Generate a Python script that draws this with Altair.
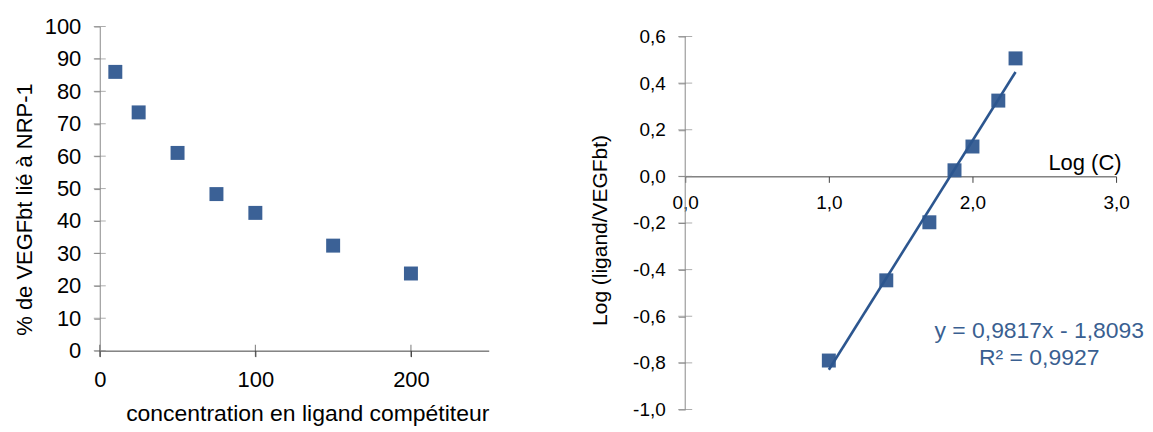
import altair as alt
import pandas as pd

# ---------------- data ----------------
# left panel: % of VEGFbt bound vs competitor concentration
conc = [10, 25, 50, 75, 100, 150, 200]
pct_bound = [86.0, 73.5, 61.0, 48.3, 42.5, 32.4, 23.8]
left_x_ticks = [0, 100, 200]
left_y_ticks = [0, 10, 20, 30, 40, 50, 60, 70, 80, 90, 100]

# right panel: log(ligand/VEGFbt) vs log(C)
log_c = [1.0, 1.4, 1.7, 1.875, 2.0, 2.18, 2.3]
log_ratio = [-0.79, -0.446, -0.197, 0.026, 0.128, 0.325, 0.506]
right_x_ticks = [0.0, 1.0, 2.0, 3.0]
right_y_ticks = [-1.0, -0.8, -0.6, -0.4, -0.2, 0.0, 0.2, 0.4, 0.6]
equation_lines = ["y = 0,9817x - 1,8093", "R² = 0,9927"]

# ---------------- style / layout ----------------
FONT = "Liberation Sans"
MARK = "#3b6196"
LINE = "#2c568f"
TXT = "#3a5f91"
AX_Y = "#8a8a8a"
AX_X = "#404040"

L_W, L_H = 390, 325
R_W = 432
R_PX_PER_UNIT = 374 / 1.6
R_TOP_EXTRA_PX = 10
R_DOM_TOP = max(right_y_ticks) + R_TOP_EXTRA_PX / R_PX_PER_UNIT
R_H = 374 + R_TOP_EXTRA_PX
EQ_X = 2.465
EQ_Y = [-0.664, -0.778]

comma_expr = "replace(replace(format(datum.value, '.1f'), '.', ','), '\u2212', '-')"

# ---------------- scales & axes ----------------
lx_scale = alt.Scale(domain=[0, 250], nice=False, zero=False)
ly_scale = alt.Scale(domain=[0, 100], nice=False, zero=False)
rx_scale = alt.Scale(domain=[min(right_x_ticks), max(right_x_ticks)], nice=False, zero=False)
ry_scale = alt.Scale(domain=[min(right_y_ticks), R_DOM_TOP], nice=False, zero=False)
x_axis_offset = -(0 - min(right_y_ticks)) * R_PX_PER_UNIT

LX_AXIS = alt.Axis(
    values=left_x_ticks, format="d", title="concentration en ligand compétiteur",
    labelFontSize=22, titleFontSize=23, tickSize=6, labelPadding=13, titlePadding=12,
    titleX=208, domainColor=AX_X, tickColor=AX_X, labelFlush=False, labelOverlap=False)
LY_AXIS = alt.Axis(
    values=left_y_ticks, format="d", title="% de VEGFbt lié à NRP-1",
    labelFontSize=22, titleFontSize=22, tickSize=6, labelPadding=13, titlePadding=8,
    titleY=183, domainColor=AX_Y, tickColor=AX_Y, labelFlush=False, labelOverlap=False)
RX_AXIS = alt.Axis(
    values=right_x_ticks, labelExpr=comma_expr, title="Log (C)", offset=x_axis_offset,
    labelFontSize=19, titleFontSize=22, tickSize=6, labelPadding=11,
    titleX=R_W + 5, titleY=-7, titleAlign="right", titleBaseline="alphabetic", titleAngle=0,
    domainColor=AX_X, tickColor=AX_X, labelFlush=False, labelOverlap=False)
RY_AXIS = alt.Axis(
    values=right_y_ticks, labelExpr=comma_expr, title="Log (ligand/VEGFbt)", domain=False,
    labelFontSize=19, titleFontSize=21, tickSize=7, labelPadding=13, titlePadding=22,
    titleY=204, tickColor=AX_Y, labelFlush=False, labelOverlap=False)

# ---------------- left panel ----------------
left_df = pd.DataFrame({"c": conc, "p": pct_bound})
left_points = alt.Chart(left_df).mark_square(size=196, color=MARK, opacity=1).encode(
    x=alt.X("c:Q", scale=lx_scale, axis=LX_AXIS),
    y=alt.Y("p:Q", scale=ly_scale, axis=LY_AXIS),
)

ly_tick_df = pd.DataFrame({"c": [left_x_ticks[0]] * len(left_y_ticks), "p": left_y_ticks})
left_yticks = alt.Chart(ly_tick_df).mark_tick(orient="horizontal", size=12, thickness=1, color=AX_Y).encode(
    x=alt.X("c:Q", scale=lx_scale, axis=LX_AXIS), y=alt.Y("p:Q", scale=ly_scale, axis=LY_AXIS))
lx_tick_df = pd.DataFrame({"c": left_x_ticks, "p": [left_y_ticks[0]] * len(left_x_ticks)})
left_xticks = alt.Chart(lx_tick_df).mark_tick(orient="vertical", size=12, thickness=1, color=AX_X).encode(
    x=alt.X("c:Q", scale=lx_scale, axis=LX_AXIS), y=alt.Y("p:Q", scale=ly_scale, axis=LY_AXIS))

left = alt.layer(left_points, left_yticks, left_xticks).properties(width=L_W, height=L_H)

# ---------------- right panel ----------------
right_df = pd.DataFrame({"lc": log_c, "lr": log_ratio})
right_points = alt.Chart(right_df).mark_square(size=196, color=MARK, opacity=1).encode(
    x=alt.X("lc:Q", scale=rx_scale, axis=RX_AXIS),
    y=alt.Y("lr:Q", scale=ry_scale, axis=RY_AXIS),
)

right_line = alt.Chart(right_df).transform_regression("lc", "lr").mark_line(
    color=LINE, strokeWidth=2.6).encode(
    x=alt.X("lc:Q", scale=rx_scale, axis=RX_AXIS), y=alt.Y("lr:Q", scale=ry_scale, axis=RY_AXIS))

ry_rule_df = pd.DataFrame({"lc": [right_x_ticks[0]], "lr": [min(right_y_ticks)], "lr2": [max(right_y_ticks)]})
right_yrule = alt.Chart(ry_rule_df).mark_rule(color=AX_Y, strokeWidth=1).encode(
    x=alt.X("lc:Q", scale=rx_scale, axis=RX_AXIS), y=alt.Y("lr:Q", scale=ry_scale, axis=RY_AXIS), y2="lr2:Q")

ry_tick_df = pd.DataFrame({"lc": [right_x_ticks[0]] * len(right_y_ticks), "lr": right_y_ticks})
right_yticks = alt.Chart(ry_tick_df).mark_tick(orient="horizontal", size=14, thickness=1, color=AX_Y).encode(
    x=alt.X("lc:Q", scale=rx_scale, axis=RX_AXIS), y=alt.Y("lr:Q", scale=ry_scale, axis=RY_AXIS))

eq_df = pd.DataFrame({"t": equation_lines, "lc": [EQ_X] * len(equation_lines), "lr": EQ_Y})
right_eq = alt.Chart(eq_df).mark_text(align="center", baseline="middle", fontSize=23, color=TXT, font=FONT).encode(
    x=alt.X("lc:Q", scale=rx_scale, axis=RX_AXIS), y=alt.Y("lr:Q", scale=ry_scale, axis=RY_AXIS), text="t:N")

right = alt.layer(right_points, right_yrule, right_yticks, right_line, right_eq).properties(width=R_W, height=R_H)

chart = alt.hconcat(left, right, spacing=197, bounds="flush").properties(
    padding={"left": 5, "top": 7, "right": 0, "bottom": 0}, background="white"
).configure_view(stroke=None).configure_axis(
    grid=False, labelFont=FONT, titleFont=FONT, titleFontWeight="normal",
    labelColor="black", titleColor="black", domainWidth=1, tickWidth=1
)

chart.save("out.html", embed_options={"renderer": "svg", "actions": False})
